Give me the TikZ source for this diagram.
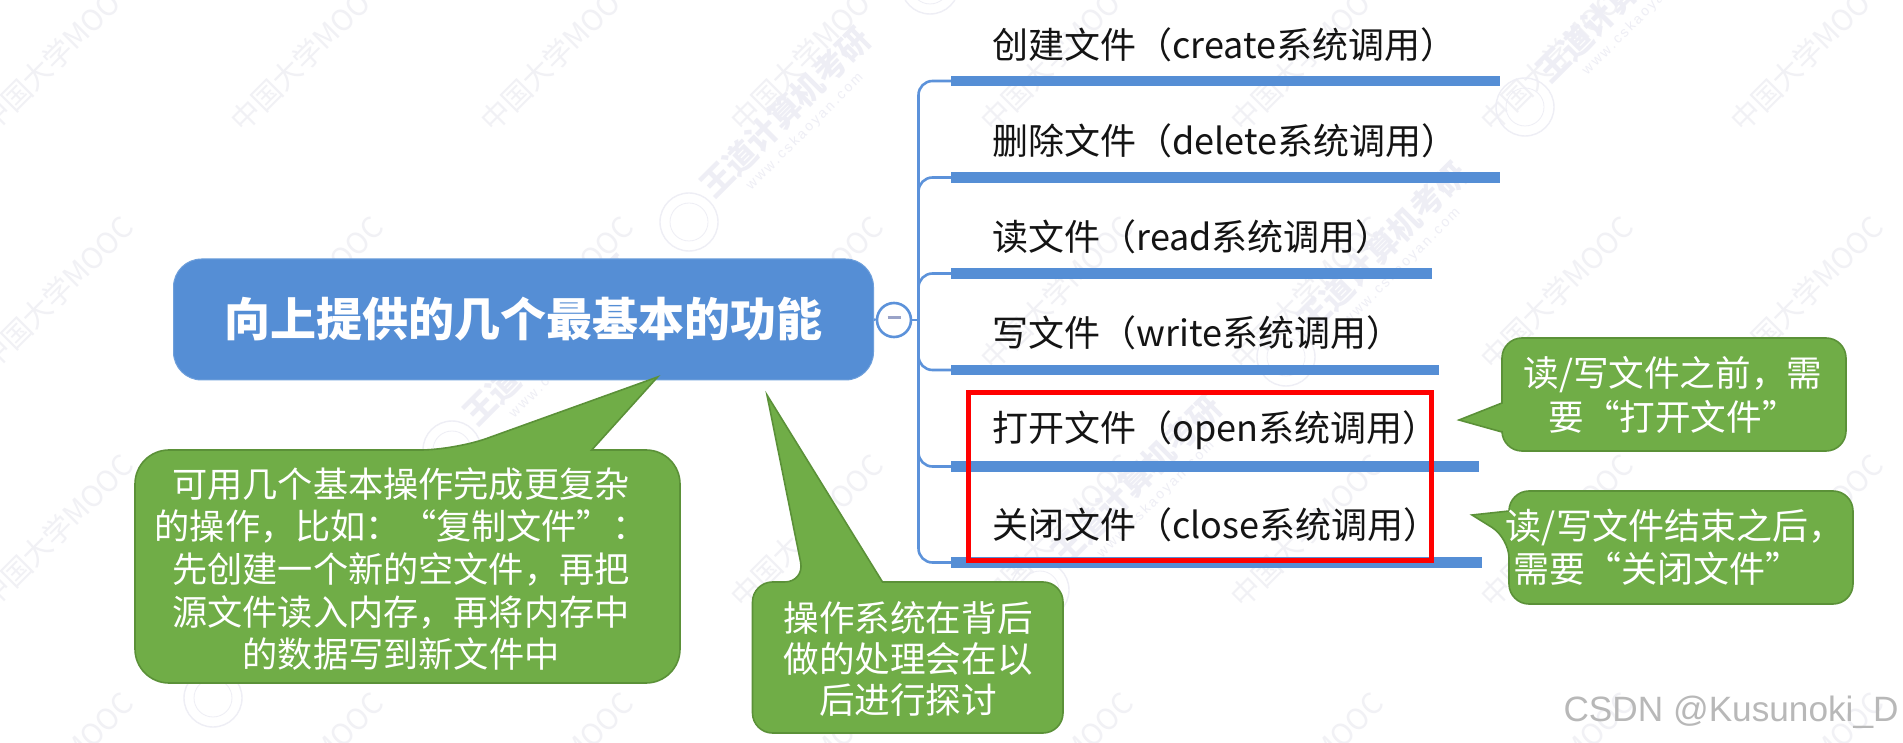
\documentclass[tikz,border=0pt]{standalone}
\usepackage{fontspec}
\setmainfont{Noto Sans CJK SC}
\newfontfamily\wmlatin{Liberation Sans}
\definecolor{rootblue}{HTML}{558ED5}
\definecolor{linkblue}{HTML}{5C92DA}
\definecolor{leafgreen}{HTML}{70AD47}
\definecolor{leafedge}{HTML}{5B9138}
\definecolor{wmgray}{HTML}{F1F1F5}
\definecolor{wmbold}{HTML}{EEEEF5}
\definecolor{minuscol}{HTML}{9AA3C8}
\tikzset{
  rootbox/.style={fill=rootblue,draw=rootblue!85!white,line width=.5pt,rounded corners=14pt,minimum width=350pt,minimum height=60.5pt,inner sep=0,text=white,font=\fontsize{23}{27}\selectfont\bfseries},
  barline/.style={fill=rootblue,inner sep=0,minimum height=5.3pt,anchor=west},
  conn/.style={draw=linkblue,line width=1.3pt,rounded corners=7pt},
  toggle/.style={circle,draw=linkblue,line width=1.3pt,fill=white,minimum size=17pt,inner sep=0},
  label/.style={anchor=west,inner sep=0,font=\fontsize{18}{20}\selectfont,text=black!92},
  callout/.style={fill=leafgreen,draw=leafedge,line width=.8pt},
  ctext/.style={inner sep=0,text=white,align=center,font=\fontsize{18}{21.3}\selectfont},
  redbox/.style={draw=red,line width=2.1pt,minimum width=231.5pt,minimum height=84pt,inner sep=0},
  wmtext/.style={rotate=45,text=wmgray,inner sep=0,font=\fontsize{14.5}{16}\selectfont},
  wmhead/.style={rotate=45,text=wmbold,inner sep=0,font=\fontsize{16}{18}\selectfont\bfseries},
  wmsub/.style={rotate=45,text=wmbold,inner sep=0,font=\wmlatin\fontsize{7}{8}\selectfont},
  wmlogo/.style={circle,draw=wmbold,line width=.7pt,minimum size=29pt,inner sep=0},
}
\begin{document}
\begin{tikzpicture}[x=.5pt,y=-.5pt]
\useasboundingbox (0,0) rectangle (1903,743);
\fill[white] (0,0) rectangle (1903,743);
% watermarks
\foreach \j [count=\row] in {55,293,531,769}{
  \foreach \i [count=\col] in {57,307,...,1807}{
    \node[wmtext] (wm-\row-\col) at (\i,\j) {中国大学MOOC};
  }
}
\foreach \lx/\ly [count=\n] in {213/698,452/450,689/222,930/-15,1040/590,1286/357,1525/107}{
  \node[wmlogo] (logo\n) at (\lx,\ly) {};
  \node[circle,draw=wmbold,line width=.4pt,minimum size=19pt,inner sep=0] (logoin\n) at (\lx,\ly) {};
  \node[wmhead] (wmh\n) at ([shift={(96,-110)}]\lx,\ly) {王道计算机考研};
  \node[wmsub] (wms\n) at ([shift={(116,-90)}]\lx,\ly) {w\,w\,w\,.\,c\,s\,k\,a\,o\,y\,a\,n\,.\,c\,o\,m};
}
% root and toggle
\node[rootbox] (root) at (523.5,319.5) {向上提供的几个最基本的功能};
\node[toggle] (tog) at (894,320) {\textcolor{minuscol}{\rule[.25em]{6.5pt}{1.3pt}}};
\coordinate (hub) at (918.5,320);
% bars
\node[barline,minimum width=274.5pt] (b1) at (951,81) {};
\node[barline,minimum width=274.5pt] (b2) at (951,177.5) {};
\node[barline,minimum width=240.5pt] (b3) at (951,273.5) {};
\node[barline,minimum width=244pt] (b4) at (951,370) {};
\node[barline,minimum width=264pt] (b5) at (951,466.5) {};
\node[barline,minimum width=265.5pt] (b6) at (951,562.5) {};
\draw[conn] (root.east) -- (tog.west);
\draw[conn] (tog.east) -- (hub);
\foreach \b in {b1,b2,b3,b4,b5,b6}{ \draw[conn] (hub) |- (\b.west); }
% branch labels
\node[label] (t1) at (992,45) {创建文件（create系统调用）};
\node[label] (t2) at (992,141) {删除文件（delete系统调用）};
\node[label] (t3) at (992,237) {读文件（read系统调用）};
\node[label] (t4) at (992,333) {写文件（write系统调用）};
\node[label] (t5) at (992,430) {打开文件（open系统调用）};
\node[label] (t6) at (992,525) {关闭文件（close系统调用）};
\node[redbox] (focus) at (1200,476.5) {};
% callout 1
\draw[callout,rounded corners=17pt] (135,450) -- (454.6,450) [sharp corners] -- (657.6,377) -- (591.7,450) [rounded corners=17pt] -- (680,450) -- (680,683) -- (135,683) -- cycle;
\node[ctext,font=\fontsize{17.6}{21.3}\selectfont] (c1) at (401,569) {可用几个基本操作完成更复杂\\的操作，比如：“复制文件”：\\先创建一个新的空文件，再把\\源文件读入内存，再将内存中\\的数据写到新文件中};
% callout 2
\draw[callout,rounded corners=10pt] (752.5,582) -- (804.6,582) [sharp corners] -- (767,395) -- (882.5,582) [rounded corners=10pt] -- (1063,582) -- (1063,733) -- (752.5,733) -- cycle;
\node[ctext,font=\fontsize{17.8}{20.7}\selectfont] (c2) at (908,659) {操作系统在背后\\做的处理会在以\\后进行探讨};
% callout 3
\draw[callout,rounded corners=10pt] (1502,338) -- (1846,338) -- (1846,451) -- (1502,451) [sharp corners] -- (1502,432) -- (1459,420) -- (1502,403) [rounded corners=10pt] -- cycle;
\node[ctext,font=\fontsize{17.8}{21.8}\selectfont] (c3) at (1673,395) {读/写文件之前，需\\要“打开文件”};
% callout 4
\draw[callout,rounded corners=10pt] (1509,491) -- (1853,491) -- (1853,604) -- (1509,604) -- (1509,538) [sharp corners] -- (1472,515) -- (1509,511) [rounded corners=10pt] -- cycle;
\node[ctext,align=left,font=\fontsize{18}{21.5}\selectfont] (c4) at (1675,547) {读/写文件结束之后，\\\hspace*{4pt}需要“关闭文件”};
% signature
\node[anchor=east,inner sep=0,text=black!28,font=\wmlatin\fontsize{17.6}{18}\selectfont] (sig) at (1899,712) {CSDN @Kusunoki\_D};
\end{tikzpicture}
\end{document}
